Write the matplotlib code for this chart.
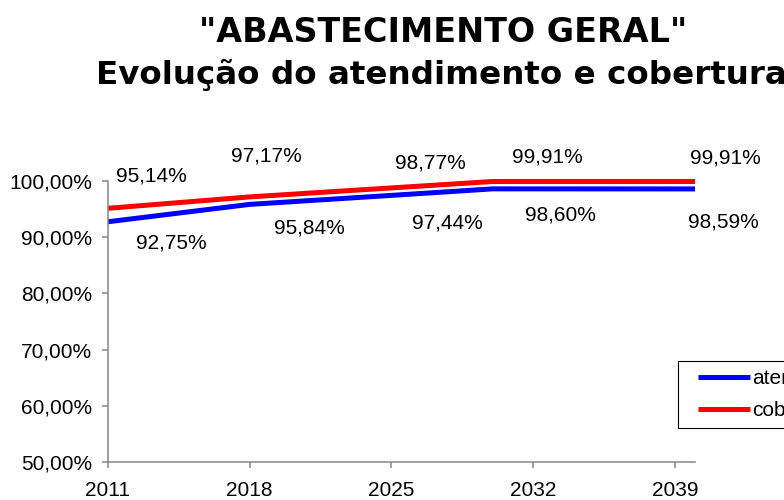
import matplotlib.pyplot as plt
from matplotlib.legend_handler import HandlerLine2D

# dados do gráfico
anos = [2011, 2018, 2025, 2030, 2040]
atendimento = [92.75, 95.84, 97.44, 98.60, 98.59]
cobertura = [95.14, 97.17, 98.77, 99.91, 99.91]
anos_ticks = [2011, 2018, 2025, 2032, 2039]
y_ticks = [50, 60, 70, 80, 90, 100]

# deslocamento dos rótulos (pixels)
off_atend = [(63, -21), (60, -24), (56, -28), (68, -26), (28, -33)]
off_cob = [(43, 32), (17, 41), (39, 25), (55, 25), (30, 24)]


def pct(v):
    return f"{v:.2f}".replace(".", ",") + "%"


fig = plt.figure(figsize=(7.84, 5.00), dpi=100)
ax = fig.add_axes([108 / 784, 1 - 462 / 500, 587 / 784, 281 / 500])

ax.plot(anos, atendimento, color="#0000FF", lw=3.6, label="atendimento", clip_on=False,
        solid_joinstyle="round", solid_capstyle="butt")
ax.plot(anos, cobertura, color="#FF0000", lw=3.6, label="cobertura", clip_on=False,
        solid_joinstyle="round", solid_capstyle="butt")

for x, v, o in zip(anos, atendimento, off_atend):
    ax.annotate(pct(v), (x, v), xytext=o, textcoords="offset pixels",
                ha="center", va="center", fontsize=15, family="Liberation Sans")
for x, v, o in zip(anos, cobertura, off_cob):
    ax.annotate(pct(v), (x, v), xytext=o, textcoords="offset pixels",
                ha="center", va="center", fontsize=15, family="Liberation Sans")

ax.set_xlim(2011, 2040)
ax.set_ylim(50, 100)
ax.set_xticks(anos_ticks)
ax.set_xticklabels([str(a) for a in anos_ticks])
ax.set_yticks(y_ticks)
ax.set_yticklabels([pct(v) for v in y_ticks])

for s in ["top", "right"]:
    ax.spines[s].set_visible(False)
for s in ["left", "bottom"]:
    ax.spines[s].set_color("#868686")
    ax.spines[s].set_linewidth(1.1)
ax.tick_params(axis="both", colors="#868686", width=1.1, length=4.5,
               labelcolor="black", labelsize=15)
ax.tick_params(axis="x", pad=9.5)
ax.tick_params(axis="y", pad=7)
for lab in ax.get_xticklabels() + ax.get_yticklabels():
    lab.set_family("Liberation Sans")

# título
fig.text(443 / 784, 1 - 42 / 500, "\"ABASTECIMENTO GERAL\"", ha="center", va="baseline",
         fontsize=24, fontweight="bold", family="DejaVu Sans")
fig.text(441 / 784, 1 - 84 / 500, "Evolução do atendimento e cobertura", ha="center",
         va="baseline", fontsize=23.4, fontweight="bold", family="DejaVu Sans")

leg = fig.legend(loc="upper left", bbox_to_anchor=(678 / 784, 1 - 361 / 500),
                 fancybox=False, edgecolor="black", framealpha=1, borderaxespad=0,
                 handlelength=3.07, handletextpad=0.1, labelspacing=0.6,
                 handler_map={ln: HandlerLine2D(xpad=0.58) for ln in ax.get_lines()},
                 prop={"family": "Liberation Sans", "size": 15})
leg.get_frame().set_linewidth(0.8)

fig.savefig("out.png", dpi=100)
